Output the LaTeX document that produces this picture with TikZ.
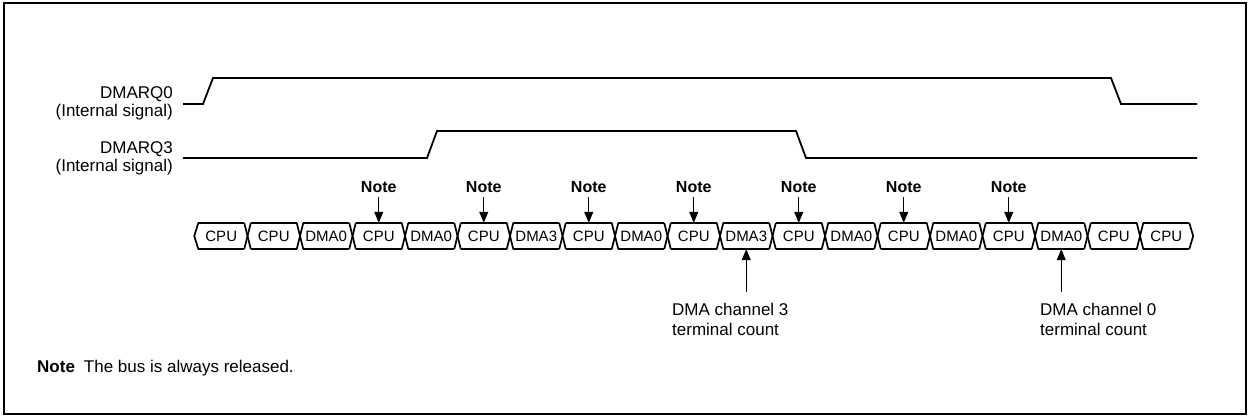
\documentclass[tikz,border=0pt]{standalone}
\usepackage{fontspec}
\setmainfont{Liberation Sans}
\usetikzlibrary{arrows.meta}
\begin{document}
\begin{tikzpicture}[x=1pt,y=-1pt,
  sig/.style={line width=1.8pt, line join=miter},
  bus/.style={line width=1.7pt, line join=miter},
  lbl/.style={font=\fontsize{17}{17.5}\selectfont, inner sep=0pt},
  lbltc/.style={font=\fontsize{17}{20}\selectfont, inner sep=0pt},
  foot/.style={font=\fontsize{17}{18}\selectfont, inner sep=0pt},
  cell/.style={font=\fontsize{15}{17}\selectfont, inner sep=0pt, minimum width=45.5pt, minimum height=26pt, text height=10.7pt, text depth=0pt},
  notelbl/.style={font=\bfseries\fontsize{16}{18}\selectfont, inner sep=0pt},
  notearrow/.style={line width=1pt, -{Triangle[length=11pt,width=9pt]}},
]
\useasboundingbox (0,0) rectangle (1249,417);
\draw[line width=2pt] (3.5,3) rectangle (1246,414);

% signals
\node[lbl, anchor=north east, align=right] (q0) at (173,86.8) {DMARQ0\\(Internal signal)};
\node[lbl, anchor=north east, align=right] (q3) at (173,141.5) {DMARQ3\\(Internal signal)};
\coordinate (s0a) at (183,104);
\coordinate (s0b) at (1197,104);
\coordinate (s3a) at (183,158);
\coordinate (s3b) at (1197,158);
\draw[sig] (s0a) -- (203,104) -- (213,78) -- (1111,78) -- (1121,104) -- (s0b);
\draw[sig] (s3a) -- (427,158) -- (437,131) -- (796,131) -- (806,158) -- (s3b);

% bus cells
\foreach \t [count=\k] in {CPU,CPU,DMA0,CPU,DMA0,CPU,DMA3,CPU,DMA0,CPU,DMA3,CPU,DMA0,CPU,DMA0,CPU,DMA0,CPU,CPU} {
  \pgfmathsetmacro\xc{195+52.5*(\k-0.5)}
  \node[cell] (c\k) at (\xc,236) {\t};
}
\foreach \k in {1,...,19} {
  \draw[bus] (c\k.north west) -- (c\k.north east);
  \draw[bus] (c\k.south west) -- (c\k.south east);
}
\foreach \k [evaluate=\k as \n using int(\k+1)] in {1,...,18} {
  \draw[bus] (c\k.north east) -- (c\n.south west);
  \draw[bus] (c\k.south east) -- (c\n.north west);
}
\draw[bus] (c1.north west) -- ([xshift=-4pt]c1.west) -- (c1.south west);
\draw[bus] (c19.north east) -- ([xshift=4pt]c19.east) -- (c19.south east);

% notes
\foreach \k in {4,6,...,16} {
  \path (c\k.center) ++(0,-44) node[notelbl, anchor=base] (n\k) {Note};
  \draw[notearrow, shorten <=5pt] (n\k.south) -- (c\k.north);
}

% terminal count
\path (c11.south) ++(0,43) coordinate (t11);
\path (c17.south) ++(0,43) coordinate (t17);
\draw[notearrow] (t11) -- (c11.south);
\draw[notearrow] (t17) -- (c17.south);
\node[lbltc, anchor=north west, align=left] (tc3) at (672,302.6) {DMA channel 3\\terminal count};
\node[lbltc, anchor=north west, align=left] (tc0) at (1040,302.6) {DMA channel 0\\terminal count};

% footnote
\node[foot, anchor=base west] (fn) at (37,372) {\textbf{Note}\hspace{9pt}The bus is always released.};
\end{tikzpicture}
\end{document}
